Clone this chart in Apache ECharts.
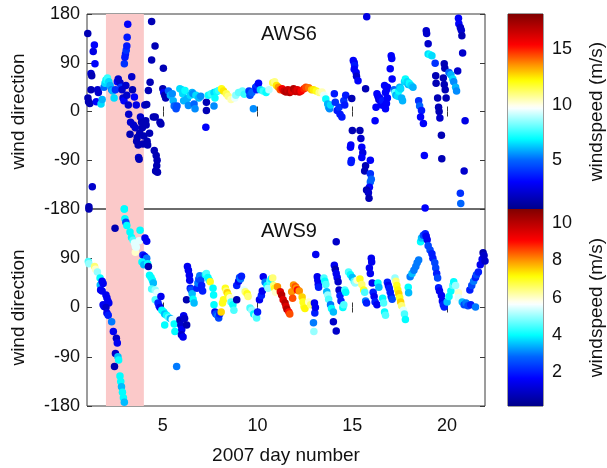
<!DOCTYPE html>
<html>
<head>
<meta charset="utf-8">
<script src="https://cdn.jsdelivr.net/npm/echarts@6/dist/echarts.min.js"></script>
<style>
  html, body { margin: 0; padding: 0; background: #fff; }
  #chart { width: 607px; height: 468px; }
</style>
</head>
<body>
<div id="chart"></div>
<script>
  // [day, wind direction (deg), windspeed (m/s)]
  var aws6Points = [
    [1.04,144,1.5],[1.05,25,1.5],[1.08,18,1.5],[1.1,-176,1.5],[1.15,15,1.5],
    [1.21,70,2],[1.25,66,1.5],[1.21,40,1.5],[1.28,-139,2],[1.33,111,2.5],[1.39,123,3],[1.42,88,3],[1.49,18,3],[1.56,40,2],[1.6,35,2],
    [1.74,14,6.5],[1.8,22,6],[1.9,45,5],[1.95,52,6.5],[2.0,58,7],[2.08,62,7.5],[2.15,55,6.5],[2.22,48,6],[2.3,40,5.5],[2.36,38,6],[2.43,25,6.5],
    [2.5,40,4],[2.6,55,3],[2.65,60,2],[2.74,53,2],[2.8,45,4],[2.85,40,2],[2.9,25,2],[2.95,20,3],
    [2.97,88,4],[3.0,100,3.5],[3.03,106,3.5],[3.07,113,4],[3.1,121,3.5],[3.12,137,3.5],[3.15,161,3],[2.97,-180,7],
    [3.05,48,2],[3.1,30,2],[3.18,12,2],[3.2,-5,2],[3.27,-42,1.5],[3.3,-20,2],[3.36,64,2],[3.4,40,1.5],[3.45,-25,2],[3.5,27,3],
    [3.55,-30,2],[3.6,12,2.5],[3.62,-55,1.5],[3.65,-48,1.5],[3.7,-62,1.5],[3.72,-85,2],[3.75,-88,1.5],[3.78,-40,1.5],[3.82,-10,2],
    [3.88,-20,1.5],[3.92,-30,1.5],[3.95,-60,1.5],[4.0,-45,1.5],[4.05,12,2],
    [4.15,13,1.5],[4.1,-17,1.5],[4.12,-25,1.5],[4.17,-55,1.5],[4.2,-62,1.5],[4.24,39,1.5],[4.3,-40,1.5],[4.33,54,1.5],[4.41,95,1.5],
    [4.41,166,1.5],[4.5,-10,1.5],[4.55,-72,1.5],[4.6,-10,1.5],[4.59,121,1.5],[4.65,-81,1.5],[4.7,-90,1.5],[4.68,-100,1.5],
    [4.62,-110,1.5],[4.72,-112,1.5],[4.9,-23,1.5],[4.85,-20,1.5],
    [5.03,80,1.5],[5.0,42,1.5],[5.05,35,3],[5.1,30,1.5],[5.15,25,1.5],[5.3,38,5],[5.4,30,6],[5.5,33,5.5],[5.55,20,6],[5.6,10,5],
    [5.7,5,4.5],[5.75,10,4.5],[5.9,42,6.5],[6.0,40,6.5],[6.05,33,6.5],[6.1,20,6],
    [6.17,39,7],[6.3,24,6],[6.35,11,5.5],[6.45,30,6.5],[6.55,35,6],[6.6,33,5.5],[6.65,14,5],[6.7,5,5.5],[6.75,30,6.5],[6.9,25,6],
    [7.0,28,5.5],[7.3,17,1.5],[7.3,2,1.5],[7.27,-29,3],[7.4,30,7],[7.55,33,7.5],[7.7,35,6.5],[7.75,25,7],[7.7,10,5.5],[7.85,37,7],
    [7.95,39,7.5],[8.1,42,12],[8.2,38,12.5],[8.35,33,11.5],[8.45,28,11],[8.6,22,10.5],[8.8,25,9.5],[8.85,30,8.5],[9.0,35,8],
    [9.2,38,8],[9.3,32,7.5],[9.55,38,4],[9.6,30,4.5],[9.7,35,5],[9.78,5,5.5],[9.9,45,4],[9.95,40,3.5],[10.0,48,4],[10.05,52,3],
    [10.15,40,6.5],[10.3,38,7.5],[10.45,35,7],[10.6,40,9],[10.8,53,11.5],[10.9,55,11],[11.0,48,12.5],[11.1,45,13.5],[11.2,40,14.5],
    [11.3,42,15.5],[11.4,38,16.5],[11.5,36,17],[11.6,40,16.5],[11.7,35,17],[11.8,38,16],[11.9,42,17],[12.0,37,16.5],[12.1,40,16],
    [12.2,36,16.5],[12.3,38,15.5],[12.45,42,15],[12.55,45,14.5],[12.7,44,14],[12.85,40,13],[12.95,40,12.5],[13.1,38,12],
    [13.25,35,11],[13.4,36,10.5],[13.5,30,9.5],[13.6,23,7],[13.7,14,6],[13.75,8,6],[13.8,5,5.5],[13.85,12,6.5],
    [14.05,33,3.5],[14.1,17,4],[14.2,2,3.5],[14.3,8,4],[14.35,-5,3.5],[14.45,-10,3.5],[14.55,20,4],[14.6,12,3.5],[14.65,30,3.5],
    [14.97,24,1.5],[15.0,-35,1.5],[15.4,-35,1.5],[14.92,-62,3],[14.9,-66,3],[14.95,-90,3.5],[14.93,-94,3.5],[15.45,-50,2],
    [15.5,-66,3],[15.55,-76,2.5],[15.5,-85,3],[15.7,-100,1.5],[15.65,-110,1.5],[15.95,-90,3],[15.95,-115,4],[16.0,-125,5],
    [15.95,-130,5],[15.9,-140,3],[15.75,-145,1.5],[15.85,-150,2],[15.88,-160,1.5],
    [15.05,94,3],[15.1,90,3],[15.12,85,3.5],[15.1,78,3],[15.2,72,3],[15.22,65,2],[15.3,57,3],[15.7,42,1.5],[15.76,175,2.5],
    [16.3,33,3],[16.35,28,3],[16.4,22,2],[16.45,25,3],[16.5,18,3],[16.55,12,3],[16.6,20,3.5],[16.7,10,3],[16.25,8,3],[16.2,-17,3],
    [16.8,40,3],[16.85,45,3],[16.7,48,3],[16.75,35,3],[16.85,25,3],[16.8,15,3],[16.75,5,3],
    [17.0,79,3],[17.05,103,3],[17.08,98,3],[17.1,60,3],[17.2,40,5],[17.25,35,8],[17.3,30,6],[17.4,28,6.5],[17.45,38,7],[17.5,45,6],
    [17.55,42,6.5],[17.6,25,6],[17.65,20,6],[17.75,55,6.5],[17.8,60,7],[17.9,55,6.5],[17.95,50,6],[18.0,52,7],[18.1,48,6.5],
    [18.2,45,6],[18.5,20,4],[18.55,10,5],[18.65,2,3.5],[18.6,-10,3],[18.75,-22,3],[18.8,-81,3],[18.84,-178,3],
    [18.9,149,2],[18.92,144,2],[19.0,125,2],[19.0,106,6.5],[19.1,105,7],[19.2,103,6.5],[19.37,89,4],[19.4,66,1.5],[19.42,52,1.5],
    [19.5,25,1.5],[19.55,8,1.5],[19.58,0,1.5],[19.62,-12,2],[19.7,-44,1.5],[19.72,-87,1.5],[19.85,88,1.5],[19.88,80,1.5],
    [19.8,62,1.5],[19.85,50,1.5],[19.9,40,1.5],[19.95,25,1.5],[20.1,72,5],[20.2,68,6],[20.3,60,6.5],[20.35,55,5.5],[20.45,45,6],
    [20.5,38,5.5],[20.56,75,2],[20.6,172,3],[20.62,162,3],[20.7,155,2],[20.75,150,2],[20.78,140,1.5],[20.82,108,2],
    [20.95,-17,2.5],[20.9,-110,2],[20.7,-151,4],[20.72,-170,5]
  ];

  var aws9Points = [
    [1.1,180,0.7],[1.07,84,4.5],[1.1,80,5],[1.4,75,6.5],[1.45,70,6],[1.55,65,5],[1.69,54,4],[1.7,41,3.5],[1.8,48,1.5],[1.85,44,1.5],
    [1.72,32,1.5],[1.8,30,1.5],[2.0,23,1.5],[2.05,18,1.5],[2.1,12,1.5],[2.15,8,1.5],[1.85,5,1.5],[1.9,2,1.5],[2.0,0,1],[2.05,-10,1.5],
    [2.12,-14,2],[2.3,-26,3],[2.39,-44,1.5],[2.55,-56,1],[2.6,-65,1.5],[2.5,-84,1],[2.63,-90,3.5],[2.67,-96,4],[2.45,-108,0.7],
    [2.74,-125,4],[2.78,-135,4],[2.82,-145,3.5],[2.87,-155,4],[2.92,-165,4],[2.97,-173,3.5],
    [2.97,180,4],[3.0,162,4],[3.05,156,2.5],[3.1,150,4],[2.48,145,0.7],[3.27,138,4],[3.35,128,4],[3.43,123,4.5],[3.5,118,5.5],
    [3.55,112,5.5],[3.55,101,6],[3.6,110,5.5],[3.8,141,4],[3.75,122,5.5],[4.06,127,1.5],[4.15,121,1.5],[3.95,96,2],[4.05,93,1.5],
    [4.15,90,3],[3.9,83,4],[4.0,78,3.5],[4.2,80,4],[4.24,75,0.7],[4.3,59,4],[4.38,55,4],[4.45,50,4],[4.5,45,3.5],[4.41,34,4.5],
    [4.6,32,5],[4.7,27,5.5],[4.6,14,4.5],[4.75,8,2],[4.8,3,2],[4.85,0,1.5],[4.9,20,1.5],[4.95,-5,4],[5.05,-8,4],[5.1,-12,3.5],
    [5.2,-14,4],[5.3,-18,4.5],[5.4,-20,3.5],[5.1,-32,4],[5.5,-22,5.5],[5.6,-30,4],[5.64,-44,4],[5.73,-108,3],[5.9,-23,0.7],
    [5.95,-32,1],[6.0,-40,1.5],[5.98,-50,1],[6.07,-54,1.5],[6.1,-15,1.5],[6.15,-20,1],[6.26,-32,0.7],[6.25,14,0.7],
    [6.3,75,1.5],[6.35,68,1.5],[6.4,59,1.5],[6.42,50,1.5],[6.45,35,2],[6.5,32,2.5],[6.55,25,3.5],[6.6,15,4],[6.65,8,3.5],
    [6.8,35,2],[6.85,45,3],[6.9,52,2.5],[6.95,58,3],[7.0,50,2.5],[7.05,40,2],[7.1,30,2],[7.25,60,4],[7.3,62,4.5],[7.38,55,4],
    [7.45,50,4],[7.5,47,7],[7.65,35,4],[7.68,23,4],[7.7,5,4],[7.75,-8,1.5],[7.8,-12,2.5],[7.9,-15,3],[7.95,-19,2.5],[8.0,-12,2],
    [8.08,-8,7.5],[8.15,8,7],[8.2,14,7],[8.3,35,7],[8.35,30,6.5],[8.4,27,7.5],[8.45,23,7],[8.55,18,6],[8.6,10,4.5],[8.7,5,4],
    [8.75,-5,4.5],[8.9,14,0.7],[8.9,40,2],[9.0,48,1.5],[9.05,55,2.5],[9.1,52,3],[9.15,57,2],[9.3,32,5.5],[9.35,29,6.5],[9.45,25,7],
    [9.5,20,6.5],[9.6,-1,4.5],[9.7,-5,5],[9.8,-12,4],[9.9,-15,5],[9.95,-19,4.5],[10.0,-8,2],[10.1,14,1.5],[10.2,22,2],[10.25,30,1.5],
    [10.3,56,1.5],[10.4,46,3],[10.5,40,4],[10.55,35,5],[10.65,48,4.5],[10.72,52,4],[10.8,54,6.5],[10.85,40,6.5],[10.9,35,7],
    [10.95,28,6],[11.05,38,8],
    [11.2,29,9.5],[11.27,23,10],[11.35,14,9.5],[11.45,8,10],[11.5,2,9.5],[11.55,-3,10],[11.65,-8,9],[11.7,-12,8.5],[11.8,29,8],
    [11.85,17,8.5],[11.9,41,8],[12.0,38,8.5],[12.05,35,8],[12.1,32,9],[12.2,30,8],[12.35,19,7.5],[12.4,10,7],[12.45,2,7],
    [12.5,-2,7.2],[12.7,10,6],[12.8,5,6.5],[12.95,-28,3],[12.97,-44,5],[13.0,8,1.5],[13.02,-10,2],[13.05,0,1.5],[13.07,97,1.5],
    [13.15,56,1.5],[13.18,50,1.5],[13.2,42,1.5],[13.22,37,2],[13.5,54,4.5],[13.55,48,4],[13.6,42,4.5],[13.65,29,3.5],[13.7,23,5],
    [13.75,15,4.5],[13.85,5,3],[13.9,-2,4],[14.0,-8,3.5],[14.0,-26,1],[14.05,77,1.5],[14.1,70,0.7],[14.15,120,1],[14.15,62,1.5],
    [14.2,55,1.5],[14.25,47,1],[14.3,32,1],[14.35,22,2],[14.4,12,2],[14.15,-43,1],[14.5,0,4],[14.55,5,4.5],[14.6,32,4.5],
    [14.65,28,4],[14.8,65,4.5],[14.9,60,4],[15.0,55,3.5],[15.1,48,4.5],[15.15,45,5],[15.25,50,6],[15.4,52,7],[15.5,42,6.5],
    [15.6,32,7],[15.65,28,4.5],[15.7,12,3],[15.75,8,2],[15.9,72,1.5],[15.95,62,1.5],[16.0,90,1.5],[16.02,83,1.5],[16.05,45,1.5],
    [16.1,28,2],[16.15,20,1.5],[16.2,10,2],[16.3,5,1.5],[16.35,45,4],[16.4,37,3.5],[16.6,17,4],[16.65,8,4.5],[16.7,-8,4],
    [16.75,-14,4.5],[16.85,46,2],[16.9,40,1.5],[16.95,35,2],[17.0,28,2],[17.05,20,2],[17.1,15,2.5],
    [17.25,54,5],[17.3,48,6.5],[17.35,40,7],[17.4,32,7.2],[17.45,25,7.5],[17.5,18,7],[17.55,10,7.5],[17.6,3,6.5],[17.7,-5,5.5],
    [17.75,-12,4.5],[17.8,-22,4],[17.95,37,4],[17.97,27,3.5],[18.05,56,3],[18.15,62,3.5],[18.25,68,3],[18.35,75,3],[18.42,82,3],
    [18.5,87,3],[18.6,120,4],[18.65,127,3.5],[18.75,132,2.5],[18.85,135,2],[18.9,130,1.5],[18.95,124,1.5],[19.0,113,2.5],
    [19.1,105,2.5],[19.2,98,2],[19.25,90,2],[19.35,82,2.5],[19.4,72,2.5],[19.45,62,2],[19.5,54,2.5],[19.55,36,2],[19.6,30,1.5],
    [19.7,22,1.5],[19.75,12,1.5],[19.8,5,2],[19.85,1,2],[20.0,10,3.5],[20.1,20,4],[20.2,30,4],[20.3,40,4.5],[20.35,47,4],
    [20.45,40,5],[20.6,27,6],[20.6,18,5.5],[20.8,10,3.5],[20.9,5,2.5],[21.0,8,3],[21.1,3,2.5],[21.25,5,2],[21.5,1,3],[21.2,32,2],
    [21.3,40,2.5],[21.4,48,3],[21.5,55,2],[21.55,60,2.5],[21.65,65,2],[21.75,78,1.5],[21.85,88,1.5],[21.9,100,0.7],[21.95,95,1],
    [22.0,85,1]
  ];

  var shadedDays = [2, 4];
  var dayTicks = [5, 10, 15, 20];
  var aws6SpeedRange = [0.6, 18.2];
  var aws6SpeedTicks = [5, 10, 15];
  var aws9SpeedRange = [0.2, 10.75];
  var aws9SpeedTicks = [2, 4, 6, 8, 10];

  // jet-like colormap with a white middle
  var cmapStops = [
    [0, [0, 0, 138]], [0.14, [0, 0, 255]], [0.25, [0, 100, 255]], [0.36, [0, 255, 255]],
    [0.52, [255, 255, 255]], [0.66, [255, 255, 0]], [0.73, [255, 160, 0]], [0.84, [255, 0, 0]], [1, [128, 0, 0]]
  ];
  function cmapAt(t) {
    for (var i = 1; i < cmapStops.length; i++) {
      if (t <= cmapStops[i][0]) {
        var a = cmapStops[i - 1], b = cmapStops[i];
        var f = (t - a[0]) / (b[0] - a[0]);
        var c = a[1].map(function (v, k) { return Math.round(v + (b[1][k] - v) * f); });
        return 'rgb(' + c.join(',') + ')';
      }
    }
    return 'rgb(128,0,0)';
  }
  var N = 64, cmap = [], cmapGrad = [];
  for (var i = 0; i <= N; i++) {
    cmap.push(cmapAt(i / N));
    cmapGrad.push({ offset: i / N, color: cmapAt(i / N) });
  }

  var font = 'Liberation Sans, Arial, sans-serif';
  var txt = '#111';
  var frame = '#3a3a3a';

  function dayAxis(grid, pos, labels) {
    return {
      type: 'value', gridIndex: grid, position: pos, min: 1, max: 22,
      axisLine: { show: false }, splitLine: { show: false },
      axisTick: { inside: true, length: 5, customValues: dayTicks, lineStyle: { color: frame } },
      axisLabel: { show: labels, customValues: dayTicks, margin: 11, fontSize: 18, color: txt, fontFamily: font }
    };
  }
  function dirAxis(grid, pos, labels, showMax) {
    return {
      type: 'value', gridIndex: grid, position: pos, min: -180, max: 180, interval: 90,
      axisLine: { show: false }, splitLine: { show: false },
      axisTick: { inside: true, length: 5, lineStyle: { color: frame } },
      axisLabel: { show: labels, showMaxLabel: showMax, margin: 7, fontSize: 18, color: txt, fontFamily: font },
      name: labels ? 'wind direction' : '', nameLocation: 'middle', nameGap: 59,
      nameTextStyle: { fontSize: 19, color: txt, fontFamily: font }
    };
  }
  function speedAxis(grid, range, ticks) {
    return {
      type: 'value', gridIndex: grid, position: 'right', min: range[0], max: range[1],
      axisLine: { show: false }, splitLine: { show: false },
      axisTick: { inside: true, length: 4, customValues: ticks, lineStyle: { color: frame } },
      axisLabel: { customValues: ticks, margin: 9, fontSize: 18, color: txt, fontFamily: font },
      name: 'windspeed (m/s)', nameLocation: 'middle', nameGap: 44, nameRotate: 90,
      nameTextStyle: { fontSize: 19, color: txt, fontFamily: font }
    };
  }
  function catAxis(grid) {
    return { type: 'category', gridIndex: grid, data: [''], show: false };
  }
  function gridBox(l, t, w, h) {
    return {
      left: l, top: t, width: w, height: h, outerBoundsMode: 'none', containLabel: false,
      show: true, borderColor: frame, borderWidth: 1, backgroundColor: 'transparent'
    };
  }
  function band(xi, yi) {
    return {
      type: 'scatter', xAxisIndex: xi, yAxisIndex: yi, data: [], z: 1, silent: true,
      markArea: {
        silent: true, itemStyle: { color: '#fbc9c9' },
        data: [[{ xAxis: shadedDays[0] }, { xAxis: shadedDays[1] }]]
      }
    };
  }
  function colorbar(xi, yi, range, stack) {
    return [
      { type: 'bar', xAxisIndex: xi, yAxisIndex: yi, stack: stack, barWidth: '100%', silent: true,
        data: [range[0]], itemStyle: { color: 'rgba(0,0,0,0)' } },
      { type: 'bar', xAxisIndex: xi, yAxisIndex: yi, stack: stack, barWidth: '100%', silent: true,
        data: [range[1] - range[0]],
        itemStyle: { color: new echarts.graphic.LinearGradient(0, 1, 0, 0, cmapGrad) } }
    ];
  }

  var chart = echarts.init(document.getElementById('chart'));
  var option = {
    animation: false,
    backgroundColor: '#fff',
    title: [
      { text: 'AWS6', left: 256, top: 19, textStyle: { fontSize: 20, fontWeight: 'normal', color: txt, fontFamily: font } },
      { text: 'AWS9', left: 256, top: 216, textStyle: { fontSize: 20, fontWeight: 'normal', color: txt, fontFamily: font } }
    ],
    grid: [
      gridBox(87, 14, 398, 195),
      gridBox(87, 209, 398, 197),
      gridBox(508, 14, 35, 195),
      gridBox(508, 209, 35, 197)
    ],
    xAxis: [
      dayAxis(0, 'bottom', false),
      dayAxis(0, 'top', false),
      Object.assign(dayAxis(1, 'bottom', true), {
        name: '2007 day number', nameLocation: 'middle', nameGap: 40,
        nameTextStyle: { fontSize: 19, color: txt, fontFamily: font }
      }),
      dayAxis(1, 'top', false),
      catAxis(2),
      catAxis(3)
    ],
    yAxis: [
      dirAxis(0, 'left', true, true),
      dirAxis(0, 'right', false, true),
      dirAxis(1, 'left', true, false),
      dirAxis(1, 'right', false, true),
      speedAxis(2, aws6SpeedRange, aws6SpeedTicks),
      speedAxis(3, aws9SpeedRange, aws9SpeedTicks)
    ],
    visualMap: [
      { type: 'continuous', show: false, seriesIndex: 1, dimension: 2,
        min: aws6SpeedRange[0], max: aws6SpeedRange[1], inRange: { color: cmap } },
      { type: 'continuous', show: false, seriesIndex: 3, dimension: 2,
        min: aws9SpeedRange[0], max: aws9SpeedRange[1], inRange: { color: cmap } }
    ],
    series: [
      band(0, 0),
      { type: 'scatter', name: 'AWS6', xAxisIndex: 0, yAxisIndex: 0, data: aws6Points,
        symbolSize: 7.5, z: 3, itemStyle: { opacity: 1 } },
      band(2, 2),
      { type: 'scatter', name: 'AWS9', xAxisIndex: 2, yAxisIndex: 2, data: aws9Points,
        symbolSize: 7.5, z: 3, itemStyle: { opacity: 1 } }
    ].concat(colorbar(4, 4, aws6SpeedRange, 'cb6'), colorbar(5, 5, aws9SpeedRange, 'cb9'))
  };
  chart.setOption(option);
</script>
</body>
</html>
